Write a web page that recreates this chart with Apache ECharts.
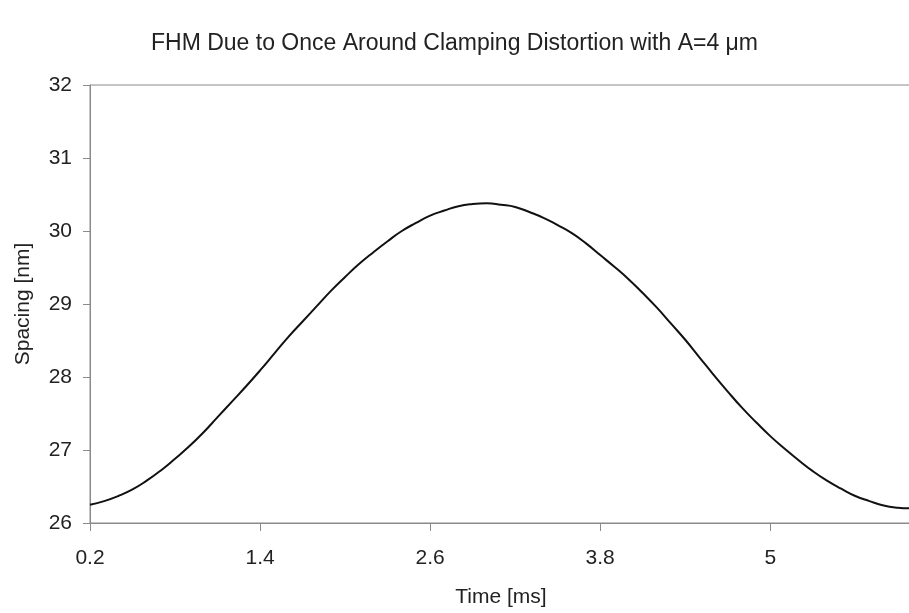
<!DOCTYPE html>
<html>
<head>
<meta charset="utf-8">
<script src="https://cdn.jsdelivr.net/npm/echarts@6/dist/echarts.min.js"></script>
<style>
html,body{margin:0;padding:0;background:#fff;}
#chart{width:909px;height:613px;}
</style>
</head>
<body>
<div id="chart"></div>
<script>
const titleText = 'FHM Due to Once Around Clamping Distortion with A=4 \u03bcm';
const xName = 'Time [ms]';
const yName = 'Spacing [nm]';
const timeMs = [0.2,0.3,0.4,0.5,0.6,0.7,0.8,0.9,1.0,1.1,1.2,1.3,1.4,1.5,1.6,1.7,1.8,1.9,2.0,2.1,2.2,2.3,2.4,2.5,2.6,2.7,2.8,2.9,3.0,3.1,3.2,3.3,3.4,3.5,3.6,3.7,3.8,3.9,4.0,4.1,4.2,4.3,4.4,4.5,4.6,4.7,4.8,4.9,5.0,5.1,5.2,5.3,5.4,5.5,5.6,5.7,5.8,5.9,6.0];
const spacingNm = [26.25,26.30,26.37,26.46,26.58,26.72,26.88,27.05,27.24,27.45,27.66,27.87,28.09,28.32,28.55,28.76,28.97,29.18,29.37,29.55,29.71,29.86,30.00,30.11,30.21,30.28,30.34,30.37,30.38,30.36,30.33,30.26,30.18,30.08,29.97,29.83,29.67,29.51,29.34,29.15,28.95,28.73,28.51,28.27,28.03,27.80,27.58,27.38,27.19,27.02,26.86,26.71,26.58,26.47,26.37,26.30,26.24,26.21,26.20];
const xTicks = [0.2,1.4,2.6,3.8,5];

const chart = echarts.init(document.getElementById('chart'), null, {renderer:'canvas'});
const font = 'Liberation Sans, Arial, sans-serif';
chart.setOption({
  animation:false,
  backgroundColor:'#fff',
  title:{
    text:titleText, left:146, top:27,
    textStyle:{fontFamily:font,fontSize:23,fontWeight:'normal',color:'#222'}
  },
  grid:{left:90,top:85,bottom:90,width:822,outerBoundsMode:'none',containLabel:false,show:true,borderColor:'#8a8a8a',borderWidth:1,backgroundColor:'transparent'},
  xAxis:{
    type:'value', min:0.2, max:6.0,
    name:xName, nameLocation:'middle', nameGap:64,
    nameTextStyle:{fontFamily:font,fontSize:21,color:'#222'},
    axisLine:{show:true,lineStyle:{color:'#8a8a8a',width:1}},
    axisTick:{show:true,length:8,customValues:xTicks,lineStyle:{color:'#8a8a8a'}},
    axisLabel:{customValues:xTicks,margin:25,fontFamily:font,fontSize:21,color:'#222',
      formatter:v=>String(v)},
    splitLine:{show:false}
  },
  yAxis:{
    type:'value', min:26, max:32, interval:1,
    name:yName, nameLocation:'middle', nameGap:56, nameRotate:90,
    nameTextStyle:{fontFamily:font,fontSize:21,color:'#222'},
    axisLine:{show:true,lineStyle:{color:'#8a8a8a',width:1}},
    axisTick:{show:true,length:7,lineStyle:{color:'#8a8a8a'}},
    axisLabel:{margin:18,fontFamily:font,fontSize:21,color:'#222'},
    splitLine:{show:false}
  },
  series:[{
    type:'line', smooth:true, showSymbol:false,
    data:timeMs.map((t,i)=>[t,spacingNm[i]]),
    lineStyle:{color:'#111',width:2}
  }]
});
</script>
</body>
</html>
